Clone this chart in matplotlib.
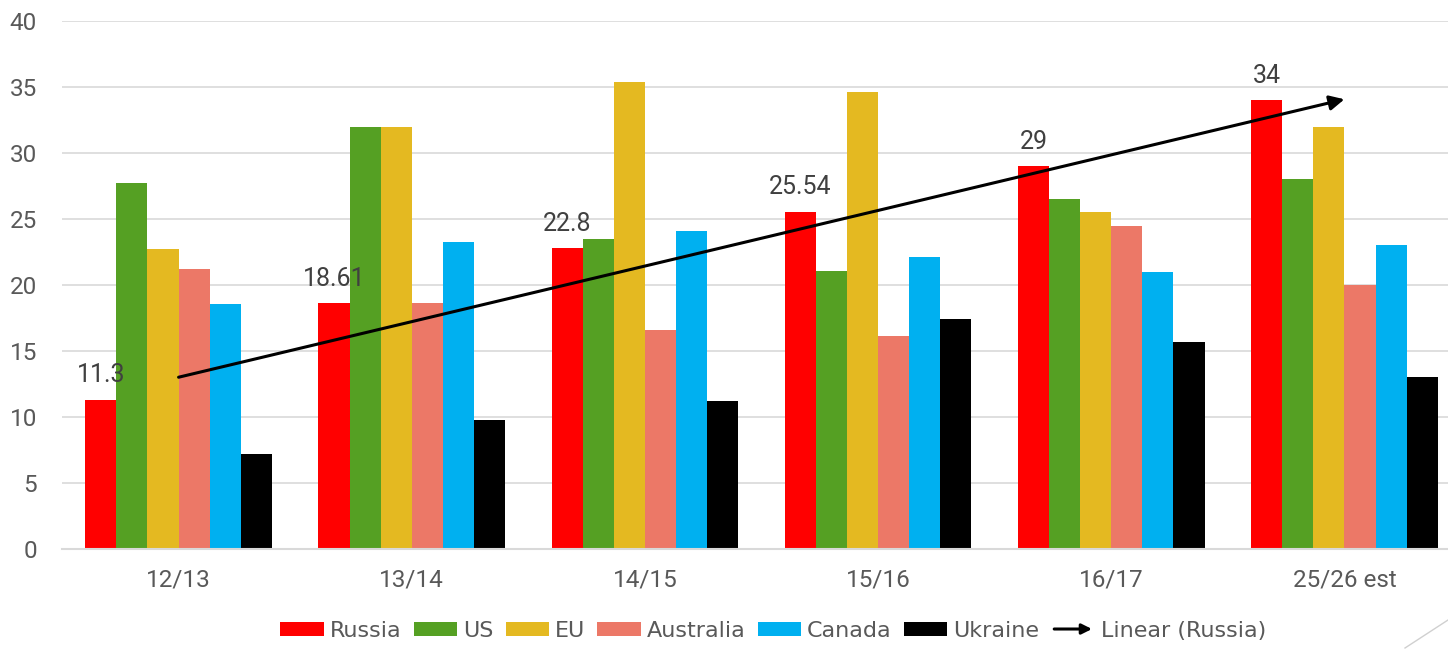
import numpy as np
import matplotlib
matplotlib.use("Agg")
import matplotlib.pyplot as plt
from matplotlib.patches import FancyArrowPatch
from matplotlib.lines import Line2D
from matplotlib.legend_handler import HandlerBase

# data
seasons = ["12/13", "13/14", "14/15", "15/16", "16/17", "25/26 est"]
russia = [11.3, 18.61, 22.8, 25.54, 29, 34]
us = [27.7, 32, 23.5, 21.05, 26.5, 28]
eu = [22.75, 32, 35.4, 34.6, 25.5, 32]
australia = [21.25, 18.6, 16.6, 16.1, 24.5, 20]
canada = [18.55, 23.25, 24.1, 22.1, 21, 23]
ukraine = [7.2, 9.75, 11.25, 17.4, 15.7, 13]

series = [
    ("Russia", russia, "#ff0000"),
    ("US", us, "#55a023"),
    ("EU", eu, "#e4b921"),
    ("Australia", australia, "#ec7867"),
    ("Canada", canada, "#00b0f0"),
    ("Ukraine", ukraine, "#000000"),
]

tick_font = ["Roboto", "DejaVu Sans"]
legend_font = ["DejaVu Sans"]


class ArrowHandler(HandlerBase):
    def create_artists(self, legend, orig_handle, xdescent, ydescent,
                       width, height, fontsize, trans):
        y = height / 2 - ydescent
        arr = FancyArrowPatch((-xdescent, y), (width - xdescent, y),
                              arrowstyle="-|>", mutation_scale=15,
                              lw=2.2, color="black", transform=trans)
        return [arr]


fig = plt.figure(figsize=(14.48, 6.49), dpi=100)
ax = fig.add_axes([62 / 1448, 100 / 649, 1399 / 1448, 528 / 649])

x = np.arange(len(seasons))
n = len(series)
w = 0.8 / n
handles = []
for i, (name, vals, col) in enumerate(series):
    b = ax.bar(x + (i - (n - 1) / 2) * w, vals, width=w, color=col,
               edgecolor="none", label=name, zorder=2)
    handles.append(b)

# data labels on Russia
for xi, v in zip(x - (n - 1) / 2 * w, russia):
    ax.annotate(f"{v:g}", (xi, v), xytext=(0, 9), textcoords="offset points",
                ha="center", va="bottom", fontsize=18, color="#404040",
                family=tick_font, zorder=4)

# linear trend for Russia
k, c = np.polyfit(x, russia, 1)
ax.annotate("", xy=(x[-1], k * x[-1] + c), xytext=(x[0], k * x[0] + c),
            arrowprops=dict(arrowstyle="-|>", lw=2.2, color="black",
                            mutation_scale=22, shrinkA=0, shrinkB=0),
            zorder=3)

ax.set_xlim(-0.5, len(seasons) - 0.5)
ax.set_ylim(0, 40)
ax.set_yticks(range(0, 41, 5))
ax.set_xticks(x)
ax.set_xticklabels(seasons)
ax.yaxis.grid(True, color="#d9d9d9", lw=1.2, zorder=0)
ax.set_axisbelow(True)
for s in ["top", "right", "left"]:
    ax.spines[s].set_visible(False)
ax.spines["bottom"].set_color("#d9d9d9")
ax.spines["bottom"].set_linewidth(1.5)
ax.tick_params(length=0, labelsize=17.5, labelcolor="#595959")
ax.tick_params(axis="x", pad=14)
ax.tick_params(axis="y", pad=18)
for lab in ax.get_xticklabels() + ax.get_yticklabels():
    lab.set_family(tick_font)

trend_handle = Line2D([], [], color="black")
fig.legend(handles + [trend_handle],
           [s[0] for s in series] + ["Linear (Russia)"],
           handler_map={trend_handle: ArrowHandler()},
           loc="center", bbox_to_anchor=(0.534, 0.028), ncol=7,
           frameon=False, handlelength=1.95, handleheight=0.63,
           handletextpad=0.27, columnspacing=0.55,
           prop={"family": legend_font, "size": 16}, labelcolor="#595959")

fig.add_artist(Line2D([1405 / 1448, 1.0], [1 / 649, 29 / 649],
                      color="#d0d0d0", lw=1, transform=fig.transFigure))

fig.savefig("out.png", dpi=100)
